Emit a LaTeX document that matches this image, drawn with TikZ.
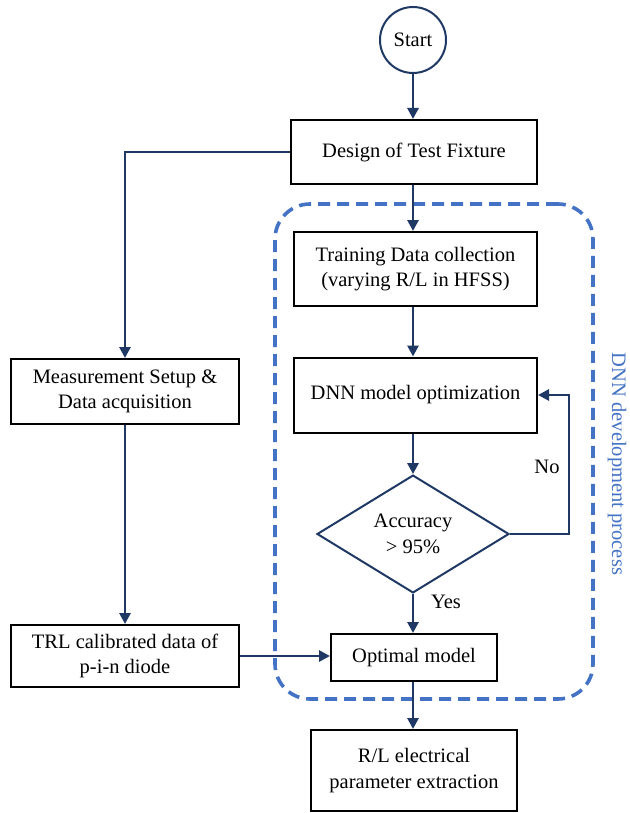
\documentclass[tikz,border=0pt]{standalone}
\usepackage{fontspec}
\setmainfont{Liberation Serif}
\usetikzlibrary{arrows.meta,shapes.geometric}
\definecolor{navy}{RGB}{31,56,100}
\definecolor{dnnblue}{RGB}{68,114,196}
\begin{document}
\begin{tikzpicture}[x=1pt,y=-1pt,
  every node/.style={font=\rmfamily\fontsize{20.5}{25.5}\selectfont, align=center},
  procbox/.style={draw=black, line width=2pt, rectangle, inner sep=0pt},
  flow/.style={draw=navy, line width=2.8pt, -{Triangle[length=11pt,width=11pt]}},
  frame/.style={draw=dnnblue, line width=3.6pt, dash pattern=on 12pt off 7pt, rounded corners=35pt},
]
\useasboundingbox (0,0) rectangle (629,813);

% DNN development frame
\node[frame, minimum width=318pt, minimum height=495pt, inner sep=0pt] (dnnframe) at (434,451.5) {};
\node[text=dnnblue, rotate=-90, inner sep=0pt] (dnnlabel) at (617,464) {DNN development process};

% Steps
\node[circle, draw=navy, line width=2pt, minimum size=66pt, inner sep=0pt] (start) at (413,40) {Start};
\node[procbox, minimum width=246pt, minimum height=64pt] (design) at (414,152) {Design of Test Fixture};
\node[procbox, minimum width=243pt, minimum height=74pt] (train) at (415.5,269) {Training Data collection\\(varying R/L in HFSS)};
\node[procbox, minimum width=243pt, minimum height=75pt] (dnn) at (415.5,395) {DNN model optimization};
\node[diamond, draw=navy, line width=2pt, minimum width=192pt, minimum height=102pt, inner sep=0pt] (acc) at (413,534) {Accuracy\\> 95\%};
\node[procbox, minimum width=228pt, minimum height=65pt] (measure) at (125,391.5) {Measurement Setup \&\\Data acquisition};
\node[procbox, minimum width=228pt, minimum height=62pt] (trl) at (125,656) {TRL calibrated data of\\p-i-n diode};
\node[procbox, minimum width=166pt, minimum height=47pt] (optimal) at (414,657.5) {Optimal model};
\node[procbox, minimum width=206pt, minimum height=81pt] (rl) at (414,770.5) {R/L electrical\\parameter extraction};

% Connectors
\draw[flow] (start.south) -- (start.south |- design.north);
\draw[flow] (design.south -| start) -- (start |- train.north);
\draw[flow] (train.south -| start) -- (start |- dnn.north);
\draw[flow] (dnn.south -| start) -- (acc.north);
\draw[flow] (acc.south) -- (start |- optimal.north);
\draw[flow] (optimal.south -| start) -- (start |- rl.north);
\draw[flow] (design.west) -| (measure.north);
\draw[flow] (measure.south) -- (trl.north);
\draw[flow] (trl.east) -- (optimal.west |- trl.east);
\coordinate (loop) at (569,534);
\draw[flow] (acc.east) -- (loop) |- (dnn.east);

% Branch labels
\node (no) at (547,467) {No};
\node (yes) at (446,602) {Yes};
\end{tikzpicture}
\end{document}
